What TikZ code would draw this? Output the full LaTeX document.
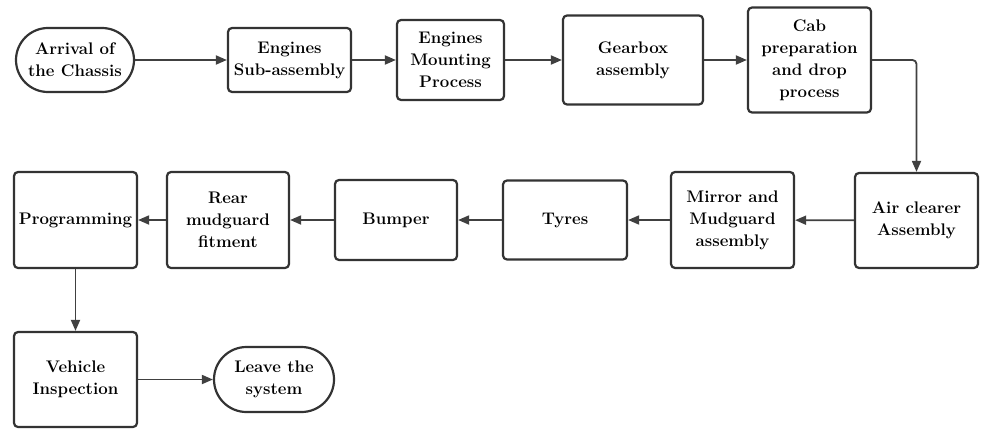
\documentclass[tikz,border=0pt]{standalone}
\usetikzlibrary{arrows.meta,shapes.misc}
\tikzset{
	procbox/.style = {draw = black!80, line width = 2.2pt, rounded corners = 4pt, align = center,
		font = \fontsize{16.8}{22}\selectfont\bfseries, inner sep = 2pt},
	termbox/.style = {procbox, rounded rectangle, rounded corners = 0pt},
	flow/.style = {-{Triangle[length = 11pt, width = 9pt]}, line width = 1.8pt, black!75}
}
\begin{document}
\begin{tikzpicture}[x = 1pt, y = -1pt]
	\useasboundingbox (0,0) rectangle (981,428);
	% top row
	\node [termbox, minimum width = 122pt, minimum height = 64pt] (arrival) at (75,60) {Arrival of\\the Chassis};
	\node [procbox, minimum width = 123pt, minimum height = 64pt] (engsub) at (289.5,60) {Engines\\Sub-assembly};
	\node [procbox, minimum width = 107pt, minimum height = 80pt] (engmount) at (450.5,60) {Engines\\Mounting\\Process};
	\node [procbox, minimum width = 140pt, minimum height = 89pt] (gearbox) at (633,60) {Gearbox\\assembly};
	\node [procbox, minimum width = 123pt, minimum height = 105pt] (cab) at (809.5,60) {Cab\\preparation\\and drop\\process};
	% middle row
	\node [procbox, minimum width = 123pt, minimum height = 95pt] (airclean) at (916.5,220.5) {Air clearer\\Assembly};
	\node [procbox, minimum width = 123pt, minimum height = 96pt] (mirror) at (732.5,220) {Mirror and\\Mudguard\\assembly};
	\node [procbox, minimum width = 124pt, minimum height = 79pt] (tyres) at (565,220) {Tyres};
	\node [procbox, minimum width = 122pt, minimum height = 80pt] (bumper) at (396,220) {Bumper};
	\node [procbox, minimum width = 122pt, minimum height = 96pt] (rearmud) at (228,220) {Rear\\mudguard\\fitment};
	\node [procbox, minimum width = 123pt, minimum height = 96pt] (program) at (75.5,220) {Programming};
	% bottom row
	\node [procbox, minimum width = 123pt, minimum height = 95pt] (inspect) at (75.5,379.5) {Vehicle\\Inspection};
	\node [termbox, minimum width = 124pt, minimum height = 65pt] (leave) at (274,379.5) {Leave the\\system};
	% connectors
	\draw [flow] (arrival) -- (engsub);
	\draw [flow] (engsub) -- (engmount);
	\draw [flow] (engmount) -- (gearbox);
	\draw [flow] (gearbox) -- (cab);
	\draw [flow, rounded corners = 4pt] (cab.east) -| (airclean.north);
	\draw [flow] (airclean) -- (mirror);
	\draw [flow] (mirror) -- (tyres);
	\draw [flow] (tyres) -- (bumper);
	\draw [flow] (bumper) -- (rearmud);
	\draw [flow] (rearmud) -- (program);
	\draw [flow] (program) -- (inspect);
	\draw [flow] (inspect) -- (leave);
\end{tikzpicture}
\end{document}
